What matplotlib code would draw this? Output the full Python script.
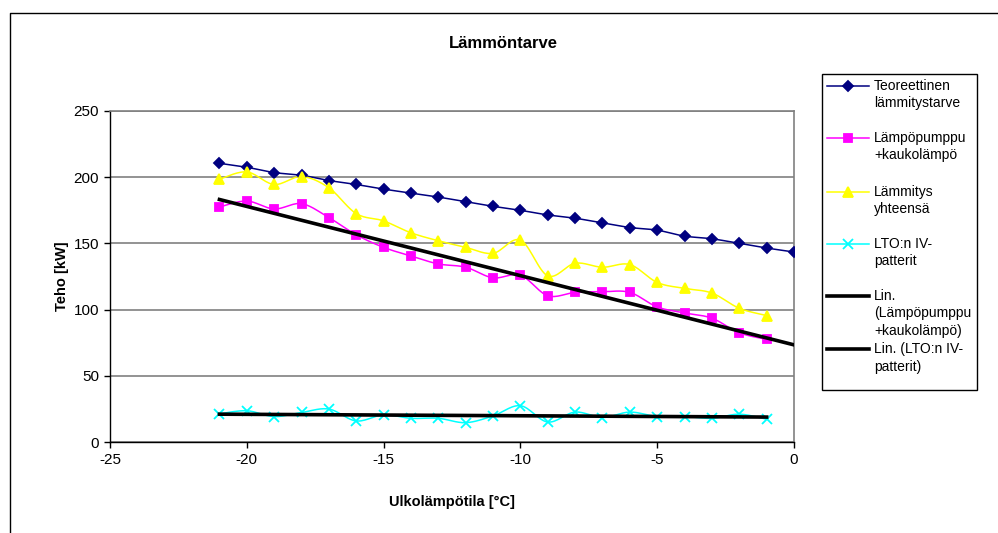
import numpy as np
import matplotlib
matplotlib.use('Agg')
import matplotlib.pyplot as plt

plt.rcParams['font.family'] = ['Liberation Sans', 'DejaVu Sans']
plt.rcParams['axes.unicode_minus'] = False

# Ulkolämpötila [°C]
ulko = [-21, -20, -19, -18, -17, -16, -15, -14, -13, -12, -11,
        -10, -9, -8, -7, -6, -5, -4, -3, -2, -1]
ulko_teor = ulko + [0]

# Teho [kW]
teoreettinen = [210.5, 207.5, 203.5, 201.5, 197.5, 194.5, 191, 188, 185, 181.5, 178,
                175, 171.5, 169, 165.5, 162, 160, 155.5, 153.5, 150, 146.5, 143.5]
lampopumppu = [177.5, 182, 176, 180, 169.5, 156.5, 147, 140.5, 134.5, 132, 124,
               126, 110.5, 113, 113.5, 113, 102, 97.5, 93.5, 82.5, 77.5]
yhteensa = [198.5, 204, 194.5, 200.5, 192, 172.5, 167, 158, 152, 147, 142.5,
            152.5, 125.5, 135, 132, 134, 120.5, 116, 112.5, 101, 95.5]
lto = [21.3, 23.6, 19.2, 22.3, 24.9, 15.9, 20.5, 17.9, 17.9, 14.6, 19.7,
       27.4, 15.1, 22.6, 18.5, 22.6, 19.2, 19.2, 17.9, 21.0, 17.2]

selitteet = ['Teoreettinen\nlämmitystarve', 'Lämpöpumppu\n+kaukolämpö',
             'Lämmitys\nyhteensä', 'LTO:n IV-\npatterit',
             'Lin.\n(Lämpöpumppu\n+kaukolämpö)', 'Lin. (LTO:n IV-\npatterit)']


def pehmennys(x, y, n=16):
    # Excel-tyylinen pehmennetty viiva (Bezier, jännitys 1/6)
    pts = np.column_stack([x, y]).astype(float)
    p = np.vstack([pts[0], pts, pts[-1]])
    t = np.linspace(0, 1, n + 1)[1:, None]
    out = [pts[0]]
    for i in range(1, len(p) - 2):
        p0, p1, p2, p3 = p[i - 1], p[i], p[i + 1], p[i + 2]
        c1 = p1 + (p2 - p0) / 6
        c2 = p2 - (p3 - p1) / 6
        seg = (1 - t) ** 3 * p1 + 3 * (1 - t) ** 2 * t * c1 + 3 * (1 - t) * t ** 2 * c2 + t ** 3 * p2
        out.extend(seg)
    out = np.array(out)
    return out[:, 0], out[:, 1]


W, H = 998, 533
fig = plt.figure(figsize=(W / 100, H / 100), dpi=100)
ax = fig.add_axes([110 / W, 1 - 442 / H, (794 - 110) / W, (442 - 111) / H])

sarjat = [
    (ulko_teor, teoreettinen, '#000080', 'D', 5.5),
    (ulko, lampopumppu, '#FF00FF', 's', 6.3),
    (ulko, yhteensa, '#FFFF00', '^', 7.5),
    (ulko, lto, '#00FFFF', 'x', 7),
]
for x, y, c, m, ms in sarjat:
    sx, sy = pehmennys(x, y)
    ax.plot(sx, sy, color=c, lw=1.1, zorder=3)
    ax.plot(x, y, ls='none', marker=m, ms=ms, color=c, mec=c, mew=1.3, zorder=4)

# Lineaariset trendiviivat
k1 = np.polyfit(ulko, lampopumppu, 1)
x1 = np.array([ulko[0], 0])
ax.plot(x1, np.polyval(k1, x1), color='black', lw=2.6, zorder=5)
k2 = np.polyfit(ulko, lto, 1)
x2 = np.array([ulko[0], ulko[-1]])
ax.plot(x2, np.polyval(k2, x2), color='black', lw=2.6, zorder=5)

ax.set_xlim(-25, 0)
ax.set_ylim(0, 250)
ax.set_xticks(range(-25, 1, 5))
ax.set_yticks(range(0, 251, 50))
ax.grid(axis='y', color='#808080', lw=1.2)
ax.set_axisbelow(True)
for s in ['top', 'right']:
    ax.spines[s].set_color('#808080')
    ax.spines[s].set_linewidth(1.2)
for s in ['left', 'bottom']:
    ax.spines[s].set_color('black')
    ax.spines[s].set_linewidth(1.0)
ax.tick_params(direction='out', length=4, width=1, labelsize=11, pad=4)
ax.set_xlabel('Ulkolämpötila [°C]', fontsize=10.5, fontweight='bold', labelpad=20)
ax.set_ylabel('Teho [kW]', fontsize=10.5, fontweight='bold', labelpad=3)

# Kehys, otsikko ja selite pikselikoordinaateissa
ov = fig.add_axes([0, 0, 1, 1], facecolor='none')
ov.set_xlim(0, W)
ov.set_ylim(H, 0)
ov.axis('off')
ov.plot([10, 10, W], [H, 13, 13], color='black', lw=1)
ov.text(503, 44, 'Lämmöntarve', ha='center', va='center', fontsize=12, fontweight='bold')

ov.add_patch(plt.Rectangle((822, 74), 155, 316, fill=False, ec='black', lw=1))
kahvat = [
    ('#000080', 'D', 5.5, 1.1, 86),
    ('#FF00FF', 's', 6.3, 1.1, 138),
    ('#FFFF00', '^', 7.5, 1.1, 192),
    ('#00FFFF', 'x', 7, 1.1, 244),
    ('black', None, 0, 2.6, 296),
    ('black', None, 0, 2.6, 349),
]
for (c, m, ms, lw, yy), teksti in zip(kahvat, selitteet):
    ov.plot([827, 869], [yy, yy], color=c, lw=lw)
    if m:
        ov.plot([848], [yy], marker=m, ms=ms, color=c, mec=c, mew=1.3)
    rivit = teksti.split('\n')
    for j, r in enumerate(rivit):
        ov.text(874, yy + j * 17.5, r, ha='left', va='center', fontsize=10)

fig.savefig('out.png', dpi=100)
